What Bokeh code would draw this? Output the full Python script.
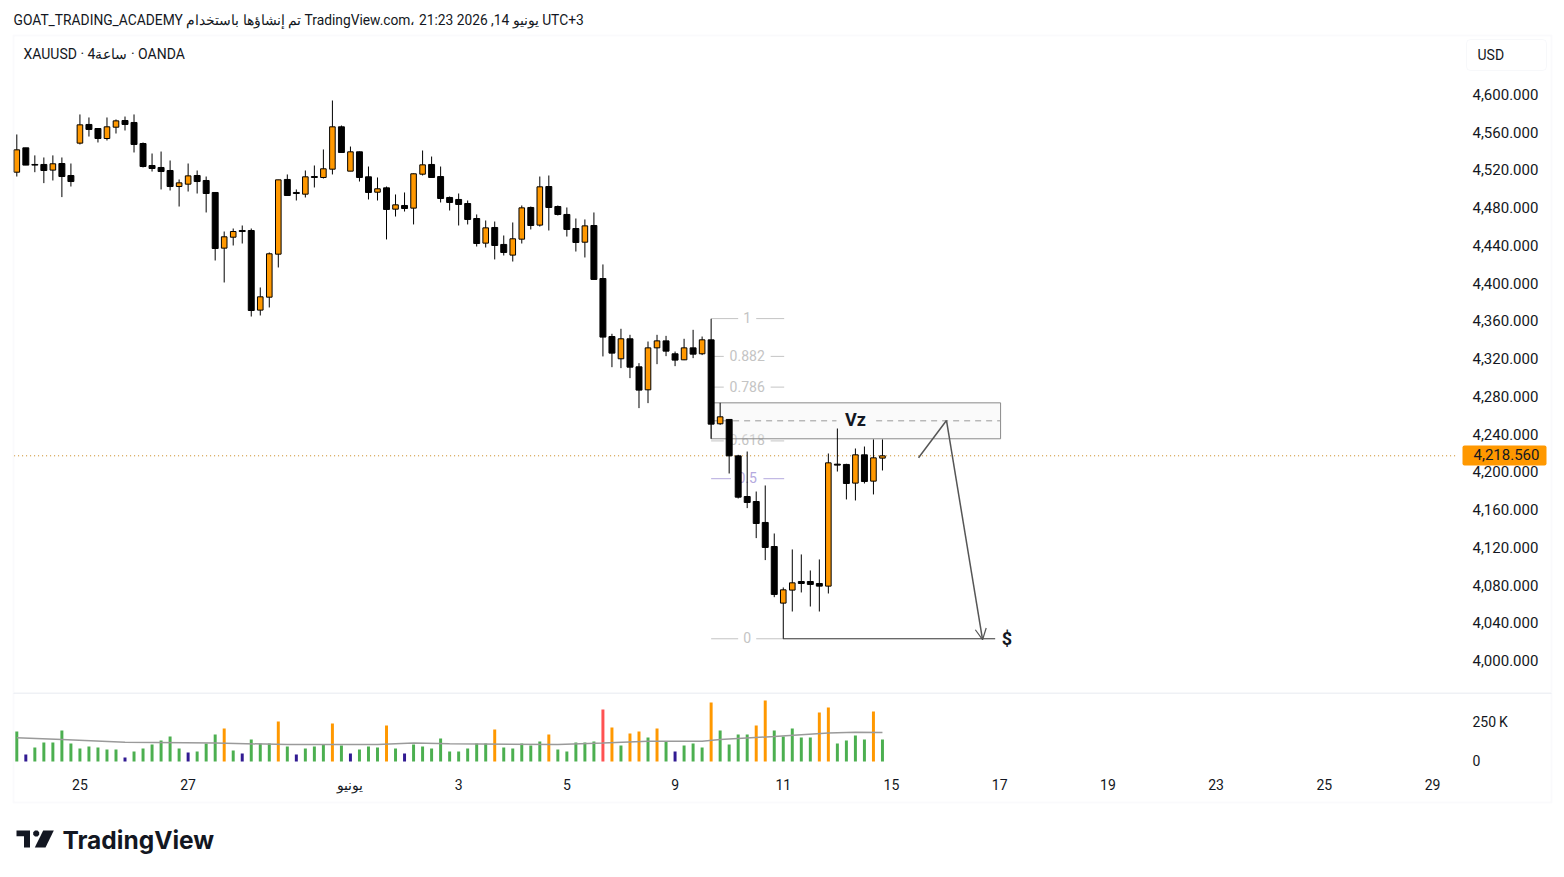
import numpy as np

from bokeh.core.properties import value
from bokeh.embed import file_html
from bokeh.layouts import column
from bokeh.models import (Arrow, BoxAnnotation, FixedTicker, Label, LinearAxis, NumeralTickFormatter,
                          OpenHead, PolyAnnotation, Range1d)
from bokeh.plotting import figure
from bokeh.resources import INLINE

FONT = "Roboto"
INK = "#131722"
ORANGE = "#ff9800"
BORDER = "#eef0f4"

opens = [4519.2, 4545, 4527.4, 4527.4, 4521.4, 4528.4, 4515.7, 4550, 4569.8, 4565.5,
         4554.9, 4566.9, 4574, 4571.9, 4549.6, 4526.3, 4524.2, 4521, 4504, 4506.5,
         4515.7, 4510.4, 4497.7, 4438.7, 4450.3, 4457.4, 4457.4, 4373, 4386.7, 4432.3,
         4511.5, 4497.7, 4495.9, 4514.6, 4513.6, 4522.4, 4567.3, 4520.3, 4540.8, 4514.3,
         4498, 4502.6, 4480, 4483.9, 4481.1, 4517.1, 4527.4, 4514.6, 4492.4, 4490.3,
         4486, 4470.1, 4444, 4460.6, 4442.6, 4431.3, 4448.2, 4481.8, 4463.1, 4504,
         4482.8, 4474.4, 4459.5, 4445, 4462.7, 4406.5, 4345, 4321.4, 4342.6, 4312.9,
         4288.5, 4333, 4340.4, 4326.7, 4320.3, 4333, 4326.7, 4341.5, 4252.5, 4257.1,
         4218.5, 4175.4, 4170.1, 4147.9, 4122.4, 4062.4, 4076.2, 4085.3, 4085.3, 4083.2,
         4080.4, 4209.7, 4209.4, 4189.6, 4219.6, 4191.7, 4216.1]
highs = [4559.2, 4545, 4537, 4534.8, 4537, 4534.8, 4528.4, 4580.4, 4577.2, 4565.9,
         4577.2, 4575.1, 4578.2, 4580.4, 4550.7, 4539, 4541.1, 4531.6, 4511.5, 4528.4,
         4521, 4514.6, 4497.7, 4456.3, 4459.5, 4462.7, 4459.5, 4397, 4434.1, 4511.1,
         4516.8, 4500.9, 4521, 4526.3, 4543.3, 4595.2, 4568.7, 4546.4, 4541.1, 4525.2,
         4513.6, 4504, 4495.6, 4497.7, 4517.8, 4542.2, 4535.8, 4525.2, 4493.4, 4496.6,
         4489.2, 4474.4, 4468, 4466.9, 4452.1, 4465.9, 4483.9, 4482.8, 4514.6, 4515.7,
         4483.9, 4481.8, 4470.1, 4469.1, 4476.5, 4421.4, 4347.9, 4353.2, 4346.8, 4316.8,
         4339.7, 4346.8, 4345.7, 4329.1, 4342.6, 4352.1, 4345, 4363.8, 4274.7, 4257.1,
         4219.6, 4223.1, 4180.7, 4187.1, 4136.2, 4079, 4119.3, 4114, 4097, 4108.7,
         4221, 4247.5, 4210.1, 4226.3, 4228.4, 4235.9, 4235.9]
lows = [4514.6, 4526.7, 4519.2, 4507.6, 4510.4, 4492.8, 4504, 4548.6, 4557, 4550.7,
        4552.8, 4560.2, 4563.4, 4540.1, 4524.2, 4519.9, 4500.9, 4499.8, 4482.8, 4498.7,
        4496.6, 4476.5, 4425.6, 4402.3, 4441.5, 4443.6, 4366.2, 4367.3, 4375.8, 4418.2,
        4494.5, 4489.2, 4492.4, 4503, 4512.5, 4516.8, 4540.1, 4520.3, 4509.3, 4490.3,
        4489.2, 4447.9, 4472.2, 4477.5, 4463.8, 4515.7, 4513.6, 4487.1, 4478.6, 4462.7,
        4463.8, 4440.4, 4439.4, 4426.7, 4430.9, 4424.5, 4443.6, 4458.5, 4461.6, 4457.4,
        4473.3, 4451, 4435.1, 4428.8, 4405.5, 4323.9, 4312.5, 4311.5, 4300.9, 4269.1,
        4274.4, 4315.7, 4324.2, 4313.6, 4320, 4322.1, 4325.3, 4236.6, 4251.4, 4199.8,
        4173.3, 4163.1, 4131.3, 4108, 4068.7, 4024.6, 4053.5, 4073.7, 4058.8, 4053.5,
        4072.6, 4201.9, 4172.3, 4171.2, 4189.2, 4177.6, 4203]
closes = [4542.9, 4526.7, 4526.7, 4521, 4528.1, 4514.6, 4509.3, 4569.4, 4564.5, 4554.9,
          4567.3, 4573.6, 4569.8, 4548.6, 4525.2, 4523.1, 4519.9, 4504, 4507.9, 4515.3,
          4509.3, 4496.6, 4438.3, 4450.7, 4456.3, 4456.3, 4372.6, 4387.1, 4432.7, 4511.1,
          4494.5, 4496.6, 4514.3, 4513.6, 4522.8, 4567.3, 4540.1, 4540.8, 4513.6, 4497.7,
          4501.6, 4479.7, 4484.6, 4480.7, 4517.5, 4527, 4513.6, 4491.3, 4487.1, 4485,
          4469.1, 4443.6, 4460.2, 4441.5, 4434.1, 4448.6, 4481.4, 4462.7, 4503.7, 4481.8,
          4474.4, 4458.5, 4444.7, 4462.3, 4405.5, 4344.4, 4327.4, 4342.6, 4312.5, 4288.2,
          4333, 4340.4, 4329.5, 4320, 4333, 4326.3, 4341.5, 4252.1, 4259.9, 4218.5,
          4174.7, 4169.1, 4146.8, 4121.4, 4071.6, 4076.5, 4083.9, 4083.2, 4082.2, 4080.4,
          4211.1, 4208.7, 4189.2, 4219.6, 4191.3, 4216.4, 4218.56]

volumes = [192, 45, 90, 122, 122, 199, 115, 83, 96, 90, 77, 77, 26, 64, 83, 109, 135, 160, 83, 58,
           64, 115, 173, 212, 71, 51, 141, 115, 115, 256, 96, 45, 83, 96, 105, 244, 103, 51, 77, 96,
           90, 231, 83, 51, 109, 96, 83, 147, 64, 64, 83, 115, 115, 205, 90, 83, 115, 103, 128, 173,
           77, 64, 122, 122, 128, 333, 218, 103, 180, 192, 154, 212, 128, 64, 103, 115, 90, 378, 199, 109,
           173, 173, 231, 391, 199, 160, 212, 154, 154, 314, 346, 115, 135, 167, 141, 321, 141]
vol_ma_bars = [0, 5, 12, 22, 30, 40, 44, 48, 60, 65, 70, 76, 78, 84, 90, 93, 96]
vol_ma = [152, 141, 124, 118, 109, 109, 118, 113, 109, 118, 130, 130, 141, 160, 182, 188, 186]

# bar colours of the volume pane, by bar number
vol_low = [1, 12, 19, 25, 31, 37, 43, 73]
vol_high = [23, 29, 35, 41, 53, 59, 66, 68, 69, 71, 77, 82, 83, 89, 90, 95]
vol_top = [65]

price_ticks = list(range(4000, 4640, 40))
time_ticks = [7, 19, 37, 49, 61, 73, 85, 97, 109, 121, 133, 145, 157]
time_labels = ["25", "27", "يونيو", "3", "5", "9", "11", "15", "17", "19", "23", "25", "29"]

last_price = 4218.56
fib_high = 4364
fib_low = 4024.6
fib_levels = [1, 0.882, 0.786, 0.618, 0.5, 0]
fib_names = ["1", "0.882", "0.786", "0.618", "0.5", "0"]
fib_gaps = [1.0, 2.6, 2.6, 2.6, 1.8, 1.0]
fib_colors = ["#c4c4c4", "#c4c4c4", "#c4c4c4", "#c4c4c4", "#b4a9de", "#c4c4c4"]
fib_start, fib_mid, fib_end = 77, 81, 85.1

zone_top, zone_bottom = 4274.7, 4236.6
zone_left, zone_right = 77, 109.1
path_bars = [100, 103.1, 107.1]
path_prices = [4216.5, 4256, 4023.6]

# the whole figure is frame, since the svg output clips annotations to it
X_RANGE = (-1.808, 170.75)
Y_RANGE = (3967.65, 4701.2)
AXIS_BAR = 159.66


def canvas_label(fig, x, y, text, size="14px", **kw):
    kw.setdefault("text_color", INK)
    kw.setdefault("text_font", FONT)
    fig.add_layout(Label(x=x, y=y, x_units="canvas", y_units="canvas", text=text,
                         text_font_size=size, text_baseline="middle", **kw))


def canvas_box(fig, left, right, top, bottom, **kw):
    fig.add_layout(BoxAnnotation(left=left, right=right, top=top, bottom=bottom,
                                 left_units="canvas", right_units="canvas",
                                 top_units="canvas", bottom_units="canvas", **kw))


def style_axis(axis, standoff):
    axis.axis_line_color = None
    axis.major_tick_line_color = None
    axis.minor_tick_line_color = None
    axis.major_tick_out = 0
    axis.major_tick_in = 0
    axis.major_label_text_font = FONT
    axis.major_label_text_color = INK
    axis.major_label_standoff = standoff


bars = np.arange(len(closes))
o = np.array(opens)
c = np.array(closes)
up = c >= o

p = figure(width=1556, height=692, output_backend="svg", toolbar_location=None,
           x_range=Range1d(*X_RANGE), y_range=Range1d(*Y_RANGE),
           x_axis_location=None, y_axis_location=None,
           min_border_left=0, min_border_right=0, min_border_top=0, min_border_bottom=0)
p.grid.visible = False
p.outline_line_color = None

# tick text sits a little above its price in the original
p.extra_y_ranges = {"labels": Range1d(Y_RANGE[0] - 1.6, Y_RANGE[1] - 1.6)}
ax = LinearAxis(fixed_location=AXIS_BAR, y_range_name="labels", ticker=FixedTicker(ticks=price_ticks),
                formatter=NumeralTickFormatter(format="0,0.000"))
style_axis(ax, 16)
ax.major_label_text_font_size = "15px"
p.add_layout(ax, "right")

# fib levels, broken around their text
lev = np.array(fib_levels) * (fib_high - fib_low) + fib_low
gaps = np.array(fib_gaps)
p.segment(fib_start, lev, fib_mid - gaps, lev, line_color=fib_colors, line_width=1)
p.segment(fib_mid + gaps, lev, fib_end, lev, line_color=fib_colors, line_width=1)
p.text(fib_mid, lev, text=fib_names, text_color=fib_colors, text_font=value(FONT), y_offset=-1,
       text_font_size="14px", text_align="center", text_baseline="middle")

# Vz zone
p.quad(left=zone_left, right=zone_right, top=zone_top, bottom=zone_bottom,
       fill_color="#f2f2f2", fill_alpha=0.35, line_color="#8a8a8a", line_width=1)
mid = (zone_top + zone_bottom) / 2
p.segment([zone_left, 95.3], [mid, mid], [90.9, zone_right], [mid, mid],
          line_color="#9a9a9a", line_dash="6 5", line_width=1)
p.text([93], [mid], text=["Vz"], text_color=INK, text_font=value(FONT), y_offset=-1.5,
       text_font_style="bold", text_font_size="18px", text_align="center", text_baseline="middle")

p.segment([-0.3], [last_price], [AXIS_BAR], [last_price], line_color="#c8861a",
          line_dash="1 3", line_width=1)

# candles
p.segment(bars, lows, bars, highs, line_color="black", line_width=1)
p.vbar(bars[~up], 0.66, o[~up], c[~up], fill_color="black", line_color="black", line_width=1)
p.vbar(bars[up], 0.62, o[up], c[up], fill_color=ORANGE, line_color="black", line_width=1)

# target lines
p.segment([85], [fib_low], [108.5], [fib_low], line_color="#333333", line_width=1)
p.line(path_bars[:2], path_prices[:2], line_color="#555555", line_width=1.5)
p.add_layout(Arrow(end=OpenHead(size=11, line_color="#555555", line_width=1.2),
                   x_start=path_bars[1], y_start=path_prices[1],
                   x_end=path_bars[2], y_end=path_prices[2],
                   line_color="#555555", line_width=1.5))
p.text([109.8], [fib_low], text=["$"], text_color=INK, text_font=value(FONT),
       text_font_style="bold", text_font_size="18px", text_align="center", text_baseline="middle")

canvas_box(p, 13, 1551, 35, 720, fill_alpha=0, line_color=BORDER, line_width=2)
canvas_box(p, 1466, 1546, 39, 70, fill_color="white", fill_alpha=1,
           line_color="#e6e8ee", line_width=1, border_radius=4)
canvas_label(p, 1477, 54, "USD")
canvas_label(p, 13, 19, "GOAT_TRADING_ACADEMY تم إنشاؤها باستخدام TradingView.com، 21:23 2026 ,14 يونيو UTC+3", "13.8px")
canvas_label(p, 23, 53, "XAUUSD · 4ساعة · OANDA")
canvas_box(p, 1462, 1546, 445, 465, fill_color=ORANGE, fill_alpha=1, line_color=None, border_radius=2)
canvas_label(p, 1473, 454, "4,218.560", "15px")

# volume pane
vol_colors = ["#4caf50"] * len(volumes)
for i in vol_low:
    vol_colors[i] = "#311b92"
for i in vol_high:
    vol_colors[i] = ORANGE
for i in vol_top:
    vol_colors[i] = "#ff5252"

v = figure(width=1556, height=177, output_backend="svg", toolbar_location=None,
           x_range=p.x_range, y_range=Range1d(-692.3, 442.3),
           x_axis_location=None, y_axis_location=None,
           min_border_left=0, min_border_right=0, min_border_top=0, min_border_bottom=0)
v.grid.visible = False
v.outline_line_color = None
v.vbar(bars, 0.33, 0, volumes, fill_color=vol_colors, line_color=None)
v.line(vol_ma_bars, vol_ma, line_color="#9a9a9a", line_width=1.5)

ay = LinearAxis(fixed_location=AXIS_BAR, ticker=FixedTicker(ticks=[0, 250]),
                major_label_overrides={0: "0", 250: "250\u2009K"})
style_axis(ay, 16)
ay.major_label_text_font_size = "14px"
v.add_layout(ay, "right")

at = LinearAxis(fixed_location=-89.7, ticker=FixedTicker(ticks=time_ticks),
                major_label_overrides=dict(zip(time_ticks, time_labels)))
style_axis(at, 2)
at.major_label_text_font_size = "14px"
v.add_layout(at, "below")

canvas_box(v, 13, 1551, -10, 110, fill_alpha=0, line_color=BORDER, line_width=2)
canvas_box(v, 13, 1551, 0, 1, fill_color="#e0e3eb", fill_alpha=1, line_color=None)

# TradingView logo
logo_shapes = [([16, 29.5, 29.5, 23.5, 23.5, 16], [138, 138, 155, 155, 143.7, 143.7]),
               ([42.7, 53.3, 45, 34.3], [138, 138, 155, 155]),
               ([34.5, 37, 38.7, 38.7, 37, 34.5, 32.7, 32.7], [138, 138, 139.8, 142.2, 144, 144, 142.2, 139.8])]
for xs, ys in logo_shapes:
    v.add_layout(PolyAnnotation(xs=xs, ys=ys, xs_units="canvas", ys_units="canvas",
                                fill_color=INK, fill_alpha=1, line_color=None))
canvas_label(v, 62, 147, "TradingView", "24.5px", text_font="Inter", text_font_style="bold")

page = column(p, v, spacing=0)
open("out.html", "w").write(file_html(page, INLINE))
